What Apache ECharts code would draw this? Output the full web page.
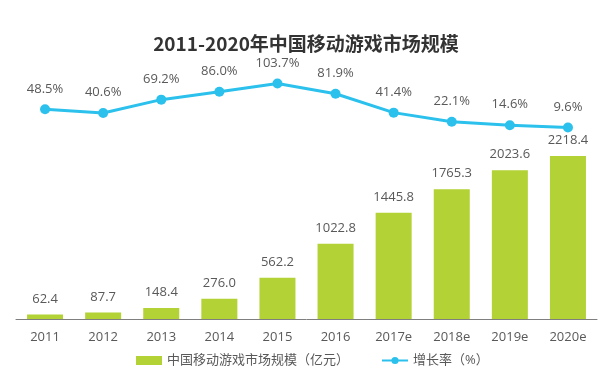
<!DOCTYPE html>
<html>
<head>
<meta charset="utf-8">
<script src="https://cdn.jsdelivr.net/npm/echarts@6/dist/echarts.min.js"></script>
<style>html,body{margin:0;padding:0;background:#fff}#c{width:612px;height:372px}</style>
</head>
<body>
<div id="c"></div>
<script>
const categories = ['2011','2012','2013','2014','2015','2016','2017e','2018e','2019e','2020e'];
const marketSize = [62.4, 87.7, 148.4, 276.0, 562.2, 1022.8, 1445.8, 1765.3, 2023.6, 2218.4];
const growthRate = [48.5, 40.6, 69.2, 86.0, 103.7, 81.9, 41.4, 22.1, 14.6, 9.6];

const chart = echarts.init(document.getElementById('c'), null, {renderer: 'canvas'});
const txt = '#595959';
const font = '"Open Sans", "Noto Sans CJK SC", sans-serif';
chart.setOption({
  animation: false,
  backgroundColor: '#fff',
  title: {
    text: '2011-2020年中国移动游戏市场规模',
    left: 'center', top: 29,
    textStyle: {fontSize: 19, fontWeight: 'bold', color: '#333333', fontFamily: '"Noto Sans CJK SC", sans-serif'}
  },
  legend: {
    top: 349, left: 131,
    itemWidth: 26, itemHeight: 9, itemGap: 32,
    textStyle: {fontSize: 13, color: txt, fontFamily: font},
    data: [{name: '中国移动游戏市场规模（亿元）', icon: 'rect'}, {name: '增长率（%）'}]
  },
  grid: {left: 16, right: 15, top: 60, bottom: 53},
  xAxis: {
    type: 'category', data: categories,
    axisLine: {lineStyle: {color: '#7f7f7f', width: 1}},
    axisTick: {show: false},
    axisLabel: {color: txt, fontSize: 13, margin: 12, fontFamily: font}
  },
  yAxis: [
    {type: 'value', min: 0, max: 3524, show: false, splitLine: {show: false}},
    {type: 'value', min: -400, max: 154, show: false, splitLine: {show: false}}
  ],
  series: [
    {
      name: '中国移动游戏市场规模（亿元）', type: 'bar', data: marketSize,
      barWidth: 36, itemStyle: {color: '#b2d235'},
      label: {show: true, position: 'top', distance: 9, color: txt, fontSize: 13, fontFamily: font,
        formatter: p => p.value.toFixed(1)}
    },
    {
      name: '增长率（%）', type: 'line', yAxisIndex: 1, data: growthRate,
      symbol: 'circle', symbolSize: 10,
      lineStyle: {color: '#2bc1ec', width: 3},
      itemStyle: {color: '#2bc1ec'},
      label: {show: true, position: 'top', distance: 9, color: txt, fontSize: 13, fontFamily: font,
        formatter: p => p.value.toFixed(1) + '%'}
    }
  ]
});
</script>
</body>
</html>
